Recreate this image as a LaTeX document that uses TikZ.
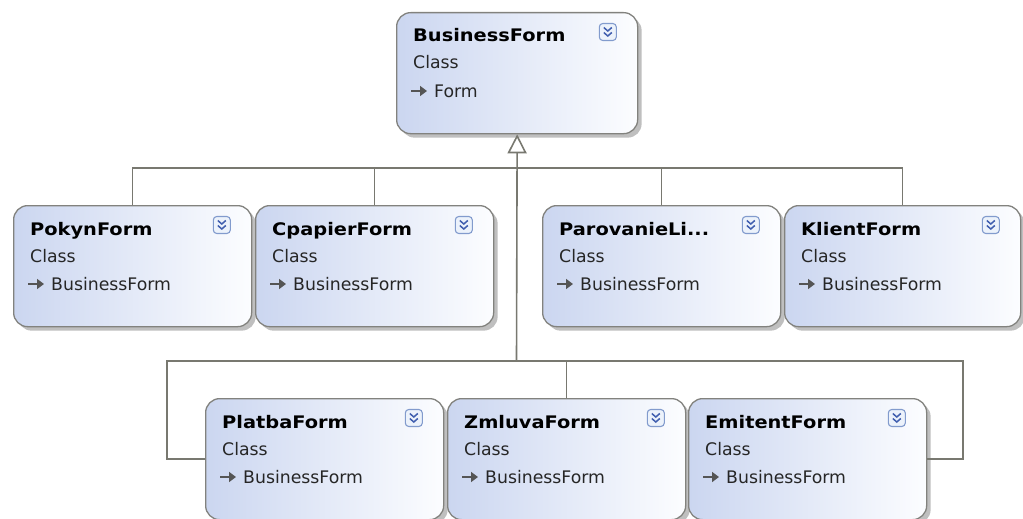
\documentclass[tikz,border=0pt]{standalone}
\usepackage{fontspec}
\setmainfont{DejaVu Sans}
\newfontfamily\titlefont[FakeStretch=1.12]{DejaVu Sans}
\usetikzlibrary{shadows,arrows.meta,calc}
\definecolor{boxL}{RGB}{203,214,240}
\definecolor{boxR}{RGB}{252,253,255}
\definecolor{boxB}{RGB}{130,130,126}
\definecolor{lineC}{RGB}{120,120,112}
\definecolor{iconB}{RGB}{130,155,205}
\definecolor{iconF}{RGB}{236,242,251}
\definecolor{chev}{RGB}{65,95,175}
\definecolor{arrC}{RGB}{85,85,85}
\tikzset{
  classbox/.style={draw=boxB, line width=1.3pt, rounded corners=14pt,
    minimum height=121pt, inner sep=0pt, left color=boxL, right color=boxR,
    drop shadow={shadow xshift=4pt, shadow yshift=-4pt, fill=black, opacity=0.25}},
  titletext/.style={anchor=base west, inner sep=0pt, font=\titlefont\bfseries\fontsize{17.3}{20}\selectfont},
  plaintext/.style={anchor=base west, inner sep=0pt, font=\fontsize{17.3}{20}\selectfont, text=black!85},
  iconbox/.style={draw=iconB, fill=iconF, line width=1.1pt, rounded corners=3.5pt,
    minimum width=17pt, minimum height=17pt, inner sep=0pt},
  chevron/.style={draw=chev, line width=1.5pt},
  inharr/.style={draw=arrC, line width=2.8pt, -{Triangle[length=7pt,width=10pt]}},
  conn/.style={draw=lineC, line width=1.6pt},
}
\newcommand\umlclass[6][238]{%
  \node[classbox, minimum width=#1pt, anchor=north west] (#2) at (#3,#4) {};
  \node[titletext] (#2-t) at ($(#2.north west)+(17,30)$) {#5};
  \node[plaintext] (#2-k) at ($(#2.north west)+(17,57)$) {Class};
  \coordinate (#2-a) at ($(#2.north west)+(15,79)$);
  \draw[inharr] (#2-a) -- ++(16,0);
  \node[plaintext] (#2-b) at ($(#2.north west)+(38,85)$) {#6};
  \node[iconbox] (#2-i) at ($(#2.north east)+(-30.5,20)$) {};
  \draw[chevron] ($(#2-i)+(-4,-4.5)$) -- ($(#2-i)+(0,-1)$) -- ($(#2-i)+(4,-4.5)$);
  \draw[chevron] ($(#2-i)+(-4,0.5)$) -- ($(#2-i)+(0,4)$) -- ($(#2-i)+(4,0.5)$);
}
\begin{document}
\begin{tikzpicture}[x=1pt,y=-1pt]
\useasboundingbox[fill=white] (0,0) rectangle (1023,519);
\umlclass[241]{bf}{396}{12}{BusinessForm}{Form}
\umlclass{pokyn}{13}{205}{PokynForm}{BusinessForm}
\umlclass{cpapier}{255}{205}{CpapierForm}{BusinessForm}
\umlclass{parovanie}{542}{205}{ParovanieLi...}{BusinessForm}
\umlclass[236]{klient}{784}{205}{KlientForm}{BusinessForm}
\umlclass{platba}{205}{398}{PlatbaForm}{BusinessForm}
\umlclass{zmluva}{447}{398}{ZmluvaForm}{BusinessForm}
\umlclass{emitent}{688}{398}{EmitentForm}{BusinessForm}
\coordinate (j1) at (516.5,168);
\coordinate (j2) at (516.5,361);
\coordinate (lb) at (167,361);
\coordinate (rb) at (963,361);
\draw[conn] (pokyn.north) |- (klient.north |- j1) -- (klient.north);
\draw[conn] (cpapier.north) -- (cpapier.north |- j1);
\draw[conn] (parovanie.north) -- (parovanie.north |- j1);
\draw[conn] (platba.west) -| (lb) -- (rb) |- (emitent.east);
\draw[conn] (zmluva.north) -- (zmluva.north |- j2);
\draw[conn, -{Triangle[open, length=19pt, width=19pt]}] (j2) -- (bf.south);
\end{tikzpicture}
\end{document}
